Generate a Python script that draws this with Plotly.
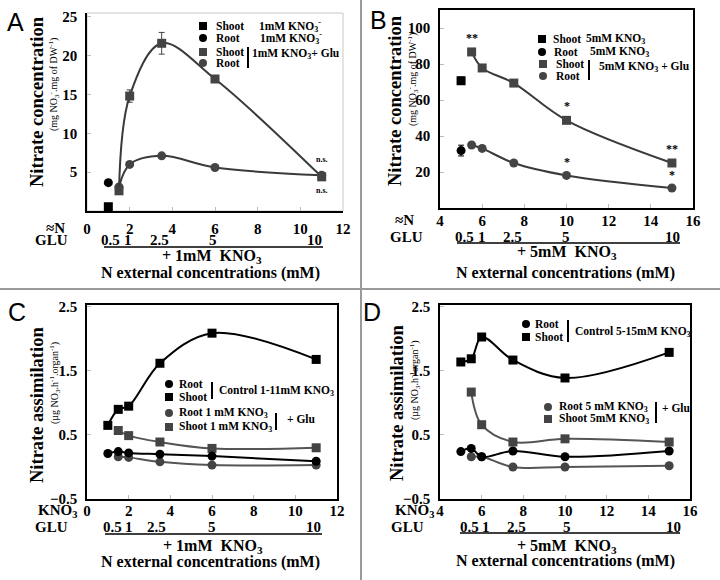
import plotly.graph_objects as go

# ---------------- DATA ----------------
# Panel A: nitrate concentration, 1mM KNO3 (+ Glu)
a_x_ctrl = [1]
a_shoot_ctrl = [0.55]
a_root_ctrl = [3.65]
a_x_glu = [1.5, 2, 3.5, 6, 11]
a_shoot_glu = [2.6, 14.8, 21.6, 17.0, 4.4]
a_shoot_glu_err = [0.3, 0.8, 1.4, 0.3, 0.3]
a_root_glu = [3.1, 6.0, 7.1, 5.6, 4.6]

# Panel B: nitrate concentration, 5mM KNO3 (+ Glu)
b_x_ctrl = [5]
b_shoot_ctrl = [70.7]
b_shoot_ctrl_err = [2.0]
b_root_ctrl = [31.9]
b_root_ctrl_err = [3.0]
b_x_glu = [5.5, 6, 7.5, 10, 15]
b_shoot_glu = [86.7, 77.8, 69.4, 48.7, 25.0]
b_root_glu = [35.0, 33.1, 25.0, 18.1, 11.1]

# Panel C: nitrate assimilation, control 1-11mM KNO3 and 1mM KNO3 + Glu
c_x_ctrl = [1, 1.5, 2, 3.5, 6, 11]
c_shoot_ctrl = [0.65, 0.90, 0.95, 1.62, 2.09, 1.68]
c_root_ctrl = [0.21, 0.24, 0.22, 0.20, 0.17, 0.09]
c_x_glu = [1.5, 2, 3.5, 6, 11]
c_shoot_glu = [0.57, 0.49, 0.39, 0.29, 0.30]
c_root_glu = [0.16, 0.15, 0.08, 0.03, 0.03]

# Panel D: nitrate assimilation, control 5-15mM KNO3 and 5mM KNO3 + Glu
d_x_ctrl = [5, 5.5, 6, 7.5, 10, 15]
d_shoot_ctrl = [1.64, 1.69, 2.03, 1.67, 1.39, 1.79]
d_root_ctrl = [0.24, 0.29, 0.16, 0.25, 0.16, 0.25]
d_x_glu = [5.5, 6, 7.5, 10, 15]
d_shoot_glu = [1.17, 0.66, 0.39, 0.44, 0.39]
d_root_glu = [0.16, 0.16, 0.00, 0.00, 0.02]

# Tick labels
glu_labels = ["0.5", "1", "2.5", "5", "10"]
x_ticks_AC = [0, 2, 4, 6, 8, 10, 12]
x_ticks_BD = [4, 6, 8, 10, 12, 14, 16]
y_ticks_A = [5, 10, 15, 20, 25]
y_ticks_B = [20, 40, 60, 80, 100]
y_ticks_CD = [-0.5, 0.5, 1.5, 2.5]

# significance marks (panel B)
b_sig_shoot = ["**", "", "", "*", "**"]
b_sig_root = ["", "", "", "*", "*"]

# ---------------- STYLE ----------------
W, H = 720, 580
SERIF = "Liberation Serif, Times New Roman, Times, serif"
SANS = "Liberation Sans, Arial, Helvetica, sans-serif"
BLACK = "#000000"
GREY = "#444444"
GREYLINE = "#3a3a3a"
LEG = 11.5


def px(x):
    return x / W


def py(y):
    return 1 - y / H


fig = go.Figure()

MS = 9


def add_series(x, y, xa, ya, color, symbol, line=True, err=None, lcolor=None):
    fig.add_trace(go.Scatter(
        x=x, y=y, xaxis=xa, yaxis=ya,
        mode="lines+markers" if line else "markers",
        line=dict(color=lcolor or color, width=2, shape="spline", smoothing=1.0),
        marker=dict(symbol=symbol, size=MS, color=color, line=dict(width=0)),
        error_y=dict(type="data", array=err, visible=True, color=color, thickness=1, width=3) if err else None,
        showlegend=False, hoverinfo="skip", cliponaxis=False,
    ))


# Panel A
add_series(a_x_glu, a_root_glu, "x", "y", GREY, "circle", lcolor=GREYLINE)
add_series(a_x_glu, a_shoot_glu, "x", "y", GREY, "square", err=a_shoot_glu_err, lcolor=GREYLINE)
add_series(a_x_ctrl, a_root_ctrl, "x", "y", BLACK, "circle", line=False)
add_series(a_x_ctrl, a_shoot_ctrl, "x", "y", BLACK, "square", line=False)

# Panel B
add_series(b_x_glu, b_root_glu, "x2", "y2", GREY, "circle", lcolor=GREYLINE)
add_series(b_x_glu, b_shoot_glu, "x2", "y2", GREY, "square", lcolor=GREYLINE)
add_series(b_x_ctrl, b_root_ctrl, "x2", "y2", BLACK, "circle", line=False, err=b_root_ctrl_err)
add_series(b_x_ctrl, b_shoot_ctrl, "x2", "y2", BLACK, "square", line=False, err=b_shoot_ctrl_err)

# Panel C
add_series(c_x_glu, c_root_glu, "x3", "y3", GREY, "circle", lcolor="#555555")
add_series(c_x_glu, c_shoot_glu, "x3", "y3", GREY, "square", lcolor="#555555")
add_series(c_x_ctrl, c_root_ctrl, "x3", "y3", BLACK, "circle")
add_series(c_x_ctrl, c_shoot_ctrl, "x3", "y3", BLACK, "square")

# Panel D
add_series(d_x_glu, d_root_glu, "x4", "y4", GREY, "circle", lcolor="#555555")
add_series(d_x_glu, d_shoot_glu, "x4", "y4", GREY, "square", lcolor="#555555")
add_series(d_x_ctrl, d_root_ctrl, "x4", "y4", BLACK, "circle")
add_series(d_x_ctrl, d_shoot_ctrl, "x4", "y4", BLACK, "square")

tickfont = dict(family=SERIF, size=15, color=BLACK, weight="bold")


def xax(domain, rng, ticks, anchor, mirror, standoff):
    return dict(domain=domain, range=rng, tickvals=ticks, anchor=anchor,
                showgrid=False, zeroline=False, showline=True, linecolor=BLACK, linewidth=1.5,
                mirror=mirror, ticks="inside", ticklen=4, tickcolor="#bbbbbb",
                tickfont=tickfont, ticklabelstandoff=standoff, automargin=False)


def yax(domain, rng, ticks, anchor, mirror):
    return dict(domain=domain, range=rng, tickvals=ticks, anchor=anchor,
                showgrid=False, zeroline=False, showline=True, linecolor=BLACK, linewidth=1.5,
                mirror=mirror, ticks="inside", ticklen=4, tickcolor="#bbbbbb",
                tickfont=tickfont, ticklabelstandoff=5, automargin=False)


# Panel pixel frames
A_X = (87, 343); A_Y = (13, 211)
B_X = (440, 693); B_Y = (10, 208)
C_X = (87, 337); C_Y = (305, 499)
D_X = (440, 690); D_Y = (305, 499)

fig.update_layout(
    width=W, height=H, margin=dict(l=0, r=0, t=0, b=0, pad=0),
    paper_bgcolor="white", plot_bgcolor="white", showlegend=False,
    xaxis=xax([px(A_X[0]), px(A_X[1])], [0, 12], x_ticks_AC, "y", False, 3),
    yaxis=yax([py(A_Y[1]), py(A_Y[0])], [0, 25.5], y_ticks_A, "x", False),
    xaxis2=xax([px(B_X[0]), px(B_X[1])], [4, 16], x_ticks_BD, "y2", True, -2),
    yaxis2=yax([py(B_Y[1]), py(B_Y[0])], [0, 110], y_ticks_B, "x2", True),
    xaxis3=xax([px(C_X[0]), px(C_X[1])], [0, 12], x_ticks_AC, "y3", True, -3),
    yaxis3=yax([py(C_Y[1]), py(C_Y[0])], [-0.5, 2.53], y_ticks_CD, "x3", True),
    xaxis4=xax([px(D_X[0]), px(D_X[1])], [4, 16], x_ticks_BD, "y4", True, -3),
    yaxis4=yax([py(D_Y[1]), py(D_Y[0])], [-0.5, 2.53], y_ticks_CD, "x4", True),
)

shapes = []
ann = []

# light frame for panel A
shapes.append(dict(type="rect", xref="x domain", yref="y domain", x0=0, x1=1, y0=0, y1=1,
                   line=dict(color="#c8c8c8", width=1), layer="below"))

# separators
shapes.append(dict(type="line", xref="paper", yref="paper", x0=0, x1=1, y0=py(289), y1=py(289),
                   line=dict(color="#9a9a9a", width=2)))
shapes.append(dict(type="line", xref="paper", yref="paper", x0=px(361), x1=px(361), y0=0, y1=1,
                   line=dict(color="#9a9a9a", width=2)))


def text(x, y, t, size=LEG, anchor="left", family=SERIF, bold=True, angle=0, color=BLACK):
    ann.append(dict(xref="paper", yref="paper", x=px(x), y=py(y), text=t, showarrow=False,
                    xanchor=anchor, yanchor="middle", textangle=angle,
                    font=dict(family=family, size=size, color=color, weight="bold" if bold else "normal")))


def sym(x, y, kind, color, s=8):
    shapes.append(dict(type="rect" if kind == "square" else "circle", xref="paper", yref="paper",
                       xsizemode="pixel", ysizemode="pixel", xanchor=px(x), yanchor=py(y),
                       x0=-s / 2, x1=s / 2, y0=-s / 2, y1=s / 2,
                       fillcolor=color, line=dict(width=0)))


def vbar(x, y0, y1):
    shapes.append(dict(type="line", xref="paper", yref="paper", x0=px(x), x1=px(x), y0=py(y0), y1=py(y1),
                       line=dict(color=BLACK, width=2)))


def hline(x0, x1, y):
    shapes.append(dict(type="line", xref="paper", yref="paper", x0=px(x0), x1=px(x1), y0=py(y), y1=py(y),
                       line=dict(color=BLACK, width=1.5)))


# Panel letters
text(15, 22, "A", 25, "center", SANS, False)
text(378, 20, "B", 25, "center", SANS, False)
text(17, 312, "C", 25, "center", SANS, False)
text(372, 312, "D", 25, "center", SANS, False)

# Y axis titles
text(37, 102, "Nitrate concentration", 18.5, "center", angle=-90)
text(54, 85, "(mg NO<sub>3</sub><sup>-</sup>.mg of DW<sup>-1</sup>)", 10, "center", bold=False, angle=-90)
text(395, 101, "Nitrate concentration", 18.5, "center", angle=-90)
text(413, 80, "(mg NO<sub>3</sub><sup>-</sup>.mg of DW<sup>-1</sup>)", 10, "center", bold=False, angle=-90)
text(37, 405, "Nitrate assimilation", 18.5, "center", angle=-90)
text(55, 383, "(µg NO<sub>3</sub>.h<sup>-1</sup>.organ<sup>-1</sup>)", 10, "center", bold=False, angle=-90)
text(397, 403, "Nitrate assimilation", 18.5, "center", angle=-90)
text(415, 380, "(µg NO<sub>3</sub>.h<sup>-1</sup>organ<sup>-1</sup>)", 10, "center", bold=False, angle=-90)


# Secondary x rows (GLU labels under the N positions)
def glu_row(xref, xs, shifts, y):
    for xv, lab, sh in zip(xs, glu_labels, shifts):
        ann.append(dict(xref=xref, yref="paper", x=xv, y=py(y), text=lab, showarrow=False,
                        xanchor="center", yanchor="middle", xshift=sh,
                        font=dict(family=SERIF, size=15, color=BLACK, weight="bold")))


glu_row("x", a_x_glu, [-9, -2, -2, -2, -7], 240)
glu_row("x2", b_x_glu, [-7, 0, -1, -1, 1], 237)
glu_row("x3", c_x_glu, [-6, 0, -3, 0, -3], 527)
glu_row("x4", d_x_glu, [-2, 4, 4, 2, 4], 527)

text(67, 228, "≈N", 15, "right")
text(70, 240, "GLU", 15, "right")
text(416, 220, "≈N", 15, "right")
text(425, 237, "GLU", 15, "right")
text(79, 511, "KNO<sub>3</sub>", 15, "right")
text(70, 527, "GLU", 15, "right")
text(436, 511, "KNO<sub>3</sub>", 15, "right")
text(426, 527, "GLU", 15, "right")

hline(104, 323, 247)
hline(457, 680, 243)
hline(105, 322, 534)
hline(460, 680, 533)

text(212, 257, "+ 1mM  KNO<sub>3</sub>", 16, "center")
text(210, 273, "N external concentrations (mM)", 16, "center")
text(567, 253, "+ 5mM  KNO<sub>3</sub>", 16, "center")
text(565, 273, "N external concentrations (mM)", 16, "center")
text(213, 546, "+ 1mM  KNO<sub>3</sub>", 16, "center")
text(210, 562, "N external concentrations (mM)", 16, "center")
text(567, 546, "+ 5mM  KNO<sub>3</sub>", 16, "center")
text(565, 561, "N external concentrations (mM)", 16, "center")

# Legend A
sym(203, 26, "square", BLACK); text(214, 26, "Shoot"); text(257, 26, "1mM KNO<sub>3</sub><sup>-</sup>")
sym(203, 38, "circle", BLACK); text(214, 38, "Root"); text(258, 38, "1mM KNO<sub>3</sub><sup>-</sup>")
sym(203, 52, "square", GREY); text(214, 52, "Shoot")
sym(203, 63, "circle", GREY); text(214, 63, "Root")
vbar(248, 47, 68); text(250, 54, "1mM KNO<sub>3</sub>+ Glu")

# Legend B
sym(542, 39, "square", BLACK); text(551, 39, "Shoot"); text(584, 39, "5mM KNO<sub>3</sub>")
sym(542, 52, "circle", BLACK); text(552, 52, "Root"); text(588, 52, "5mM KNO<sub>3</sub>")
sym(543, 64, "square", GREY); text(554, 64, "Shoot")
sym(543, 76, "circle", GREY); text(554, 76, "Root")
vbar(589, 60, 80); text(597, 67, "5mM KNO<sub>3</sub> + Glu")

# Legend C
sym(169, 384, "circle", BLACK); text(177, 384, "Root")
sym(169, 397, "square", BLACK); text(177, 397, "Shoot")
vbar(212, 382, 399); text(217, 391, "Control 1-11mM KNO<sub>3</sub>")
sym(169, 413, "circle", GREY); text(177, 413, "Root 1 mM KNO<sub>3</sub>")
sym(169, 427, "square", GREY); text(177, 427, "Shoot 1 mM KNO<sub>3</sub>")
vbar(276, 413, 430); text(285, 419, "+ Glu")

# Legend D
sym(526, 324, "circle", BLACK); text(533, 324, "Root")
sym(526, 337, "square", BLACK); text(533, 337, "Shoot")
vbar(568, 320, 342); text(573, 332, "Control 5-15mM KNO<sub>3</sub>")
sym(548, 407, "circle", GREY); text(557, 407, "Root 5 mM KNO<sub>3</sub>")
sym(548, 419, "square", GREY); text(557, 419, "Shoot 5mM KNO<sub>3</sub>")
vbar(656, 402, 423); text(660, 408, "+ Glu")

# n.s. marks (panel A)
for yshift in (17, -14):
    ann.append(dict(xref="x", yref="y", x=a_x_glu[-1], y=a_shoot_glu[-1], text="n.s.", showarrow=False,
                    yshift=yshift, font=dict(family=SERIF, size=8, color=BLACK, weight="bold")))

# significance (panel B)
for xv, yv, s in zip(b_x_glu, b_shoot_glu, b_sig_shoot):
    if s:
        ann.append(dict(xref="x2", yref="y2", x=xv, y=yv, text=s, showarrow=False, yshift=14,
                        font=dict(family=SERIF, size=12, color=BLACK, weight="bold")))
for xv, yv, s in zip(b_x_glu, b_root_glu, b_sig_root):
    if s:
        ann.append(dict(xref="x2", yref="y2", x=xv, y=yv, text=s, showarrow=False, yshift=13,
                        font=dict(family=SERIF, size=12, color=BLACK, weight="bold")))

fig.update_layout(shapes=shapes, annotations=ann)
fig.write_html("out.html", config={"displayModeBar": False},
               post_script="document.body.style.margin='0px';document.body.style.overflow='hidden';")
